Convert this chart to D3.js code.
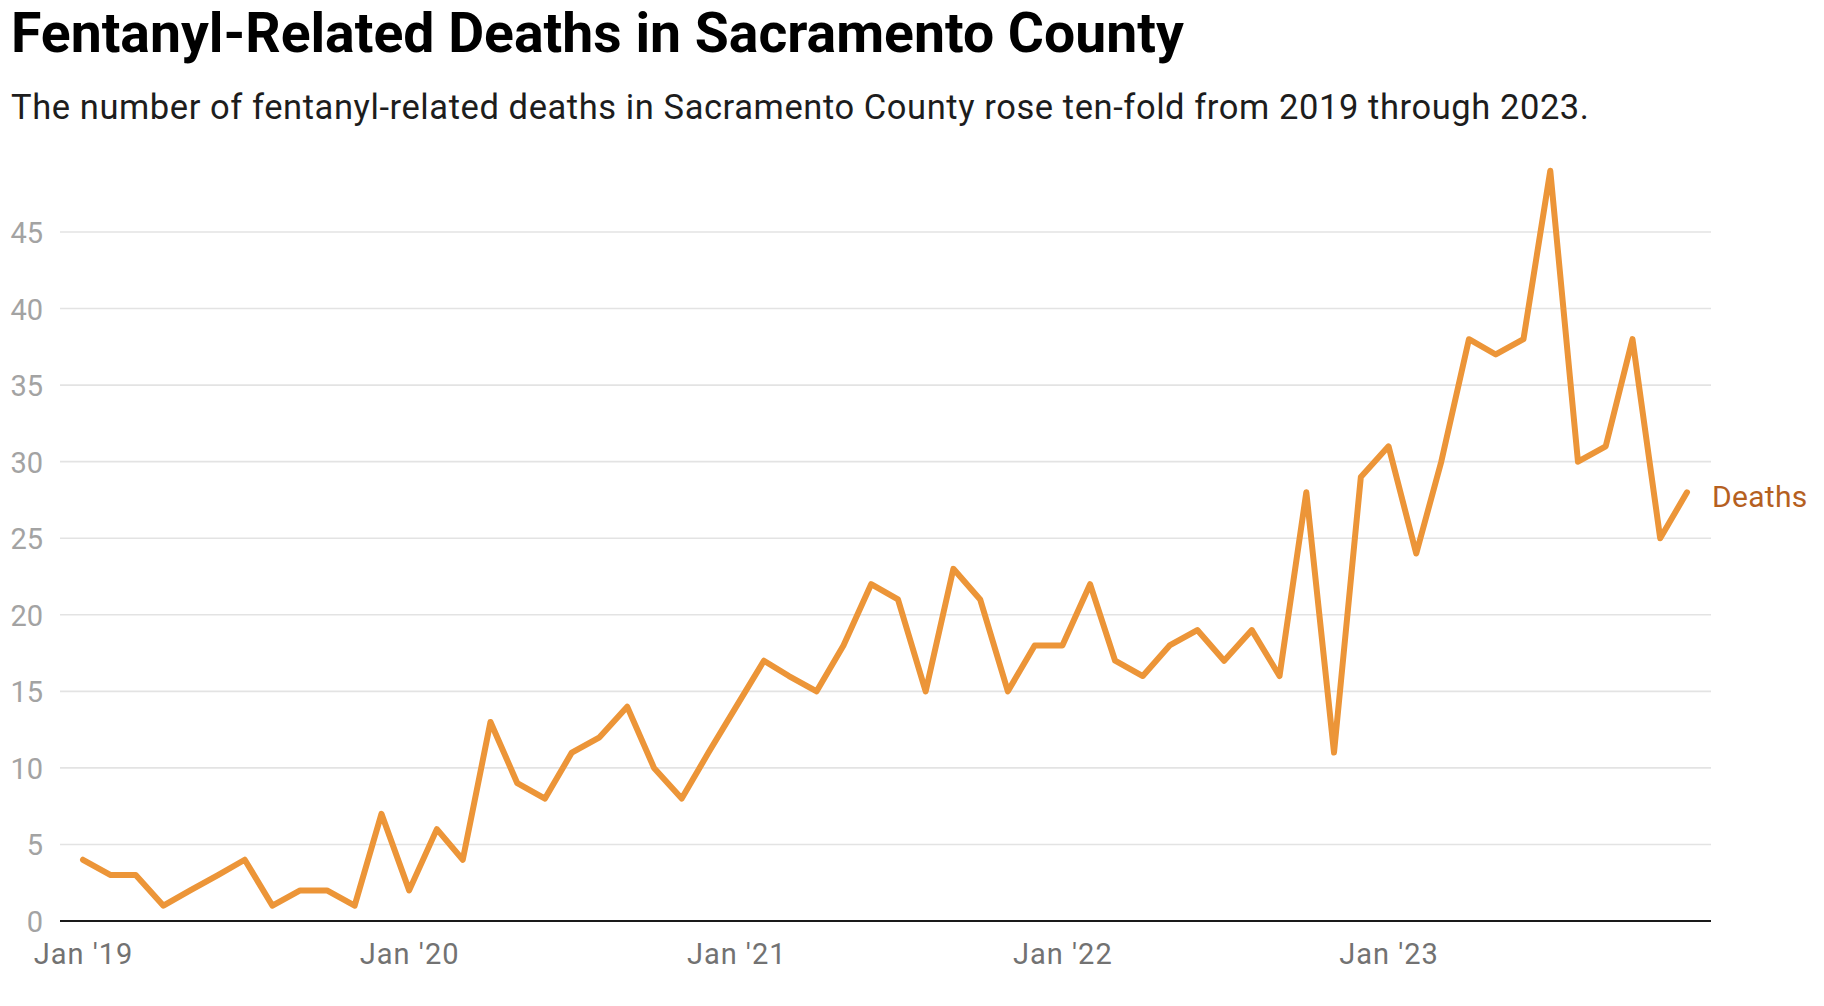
<!DOCTYPE html>
<html>
<head>
<meta charset="utf-8">
<script src="https://cdn.jsdelivr.net/npm/d3@7"></script>
<style>
  html, body { margin: 0; padding: 0; background: #fff; }
  svg { display: block; font-family: Roboto, "Noto Sans", sans-serif; }
</style>
</head>
<body>
<svg id="chart" width="1824" height="1006"></svg>
<script>
// ---- data ----
const months = [
  "2019-01","2019-02","2019-03","2019-04","2019-05","2019-06","2019-07","2019-08","2019-09","2019-10","2019-11","2019-12",
  "2020-01","2020-02","2020-03","2020-04","2020-05","2020-06","2020-07","2020-08","2020-09","2020-10","2020-11","2020-12",
  "2021-01","2021-02","2021-03","2021-04","2021-05","2021-06","2021-07","2021-08","2021-09","2021-10","2021-11","2021-12",
  "2022-01","2022-02","2022-03","2022-04","2022-05","2022-06","2022-07","2022-08","2022-09","2022-10","2022-11","2022-12",
  "2023-01","2023-02","2023-03","2023-04","2023-05","2023-06","2023-07","2023-08","2023-09","2023-10","2023-11","2023-12"
];
const deaths = [
  4, 3, 3, 1, 2, 3, 4, 1, 2, 2, 1, 7,
  2, 6, 4, 13, 9, 8, 11, 12, 14, 10, 8, 11,
  14, 17, 16, 15, 18, 22, 21, 15, 23, 21, 15, 18,
  18, 22, 17, 16, 18, 19, 17, 19, 16, 28, 11, 29,
  31, 24, 30, 38, 37, 38, 49, 30, 31, 38, 25, 28
];
const yTicks = [0, 5, 10, 15, 20, 25, 30, 35, 40, 45];
const xTickDates = ["2019-01", "2020-01", "2021-01", "2022-01", "2023-01"];
const seriesName = "Deaths";
const titleText = "Fentanyl-Related Deaths in Sacramento County";
const subtitleText = "The number of fentanyl-related deaths in Sacramento County rose ten-fold from 2019 through 2023.";

// ---- setup ----
const parse = d3.timeParse("%Y-%m");
const data = months.map((m, i) => ({ date: parse(m), value: deaths[i] }));

const svg = d3.select("#chart");
const plotLeft = 60, plotRight = 1711;

const x = d3.scaleTime()
  .domain([parse(months[0]), parse(months[months.length - 1])])
  .range([83, 1687]);
const y = d3.scaleLinear().domain([0, 45]).range([921, 232]);

// title & subtitle
svg.append("text")
  .attr("x", 11).attr("y", 52)
  .attr("font-size", 55.3).attr("font-weight", 700).attr("fill", "#000")
  .text(titleText);
svg.append("text")
  .attr("x", 11).attr("y", 119)
  .attr("font-size", 34.5).attr("fill", "#1d1d1d")
  .attr("letter-spacing", 0.58)
  .text(subtitleText);

// gridlines
const gy = svg.append("g").attr("transform", `translate(${plotLeft},0)`);
gy.selectAll("line.grid")
  .data(yTicks.filter(d => d > 0))
  .join("line")
  .attr("class", "grid")
  .attr("x1", 0).attr("x2", plotRight - plotLeft)
  .attr("y1", d => y(d)).attr("y2", d => y(d))
  .attr("stroke", "#e3e3e3").attr("stroke-width", 1.6);

// y tick labels
const yAxis = d3.axisLeft(y).tickValues(yTicks).tickSize(0).tickPadding(0);
const gyl = svg.append("g").attr("transform", `translate(43,0)`).call(yAxis);
gyl.select(".domain").remove();
gyl.selectAll("text")
  .attr("font-family", "Roboto, sans-serif")
  .attr("font-size", 29)
  .attr("fill", "#a3a3a3")
  .attr("x", 0)
  .attr("dy", "0.36em");

// baseline
svg.append("line")
  .attr("x1", plotLeft).attr("x2", plotRight)
  .attr("y1", y(0)).attr("y2", y(0))
  .attr("stroke", "#1a1a1a").attr("stroke-width", 2.2);

// x axis labels
const xAxis = d3.axisBottom(x)
  .tickValues(xTickDates.map(parse))
  .tickSize(0).tickPadding(0)
  .tickFormat(d => "Jan '" + d3.timeFormat("%y")(d));
const gx = svg.append("g").attr("transform", `translate(0,${y(0)})`).call(xAxis);
gx.select(".domain").remove();
gx.selectAll("text")
  .attr("font-family", "Roboto, sans-serif")
  .attr("font-size", 29)
  .attr("letter-spacing", 1.0)
  .attr("fill", "#727272")
  .attr("y", 43)
  .attr("dy", 0);

// line
const line = d3.line().x(d => x(d.date)).y(d => y(d.value));
svg.append("path")
  .datum(data)
  .attr("d", line)
  .attr("fill", "none")
  .attr("stroke", "#ec9538")
  .attr("stroke-width", 6)
  .attr("stroke-linejoin", "round")
  .attr("stroke-linecap", "round");

// series label
const last = data[data.length - 1];
svg.append("text")
  .attr("x", 1712)
  .attr("y", y(last.value) + 4)
  .attr("dy", "0.36em")
  .attr("font-size", 30)
  .attr("letter-spacing", 0.3)
  .attr("fill", "#b5601f")
  .text(seriesName);
</script>
</body>
</html>
